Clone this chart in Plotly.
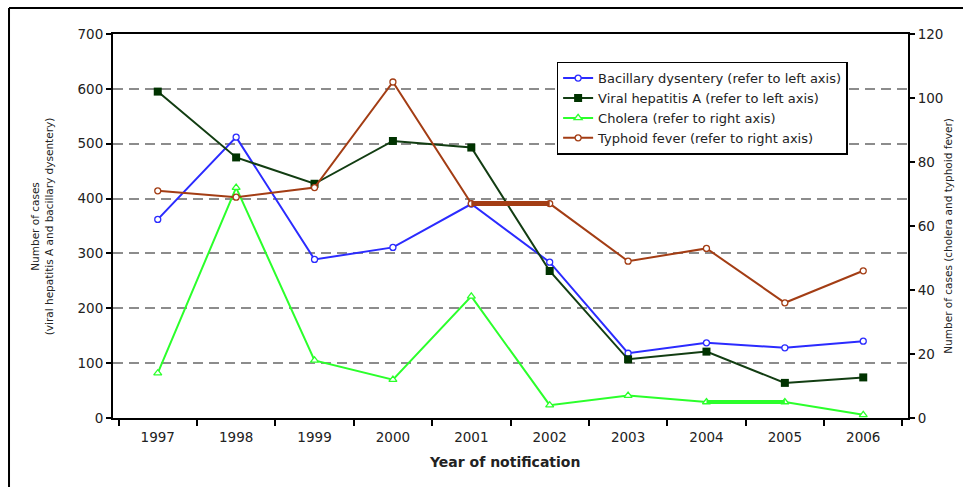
import plotly.graph_objects as go

# Notified cases per year
years = ["1997", "1998", "1999", "2000", "2001", "2002", "2003", "2004", "2005", "2006"]
bacillary_dysentery = [362, 512, 289, 311, 390, 284, 118, 137, 128, 140]
viral_hepatitis_a = [595, 475, 427, 505, 493, 268, 107, 121, 64, 74]
cholera = [14, 72, 18, 12, 38, 4, 7, 5, 5, 1]
typhoid_fever = [71, 69, 72, 105, 67, 67, 49, 53, 36, 46]

FONT = "DejaVu Sans, Verdana, sans-serif"
TXT = "#222222"
BLUE = "#2b2bff"
DKGREEN = "#123d12"
GREEN = "#2bff2b"
BROWN = "#a33d14"

fig = go.Figure()

fig.add_trace(go.Scatter(
    x=years, y=bacillary_dysentery, name="Bacillary dysentery (refer to left axis)",
    mode="lines+markers", line=dict(color=BLUE, width=2),
    marker=dict(symbol="circle", size=6, color="white", line=dict(color=BLUE, width=1.3)),
    yaxis="y"))
fig.add_trace(go.Scatter(
    x=years, y=viral_hepatitis_a, name="Viral hepatitis A (refer to left axis)",
    mode="lines+markers", line=dict(color=DKGREEN, width=2),
    marker=dict(symbol="square", size=8, color="#003300", line=dict(color="#003300", width=0)),
    yaxis="y"))
fig.add_trace(go.Scatter(
    x=years, y=cholera, name="Cholera (refer to right axis)",
    mode="lines+markers", line=dict(color=GREEN, width=2),
    marker=dict(symbol="triangle-up", size=7, color="white", line=dict(color=GREEN, width=1.3)),
    yaxis="y2"))
fig.add_trace(go.Scatter(
    x=years, y=typhoid_fever, name="Typhoid fever (refer to right axis)",
    mode="lines+markers", line=dict(color=BROWN, width=2),
    marker=dict(symbol="circle", size=6, color="white", line=dict(color=BROWN, width=1.3)),
    yaxis="y2"))


# flat runs (equal consecutive values) are rendered with a heavier stroke
def flat_runs(values):
    return [i for i in range(len(values) - 1) if values[i] == values[i + 1]]


for series, color, width in ((cholera, GREEN, 4), (typhoid_fever, BROWN, 5)):
    for i in flat_runs(series):
        fig.add_trace(go.Scatter(
            x=years[i:i + 2], y=series[i:i + 2], mode="lines",
            line=dict(color=color, width=width), showlegend=False,
            hoverinfo="skip", yaxis="y2"))

tick_font = dict(family=FONT, size=13.5, color=TXT)

fig.update_layout(
    width=963, height=487,
    margin=dict(l=113, r=55, t=34, b=69),
    paper_bgcolor="white", plot_bgcolor="white",
    font=dict(family=FONT, size=11, color=TXT),
    showlegend=True,
    legend=dict(
        x=0.558, y=0.928, xanchor="left", yanchor="top",
        bgcolor="white", bordercolor="black", borderwidth=1.5,
        font=dict(family=FONT, size=13, color=TXT),
        tracegroupgap=0, itemwidth=30,
    ),
    xaxis=dict(
        type="category", tickson="boundaries",
        ticks="outside", ticklen=6, tickwidth=1.5, tickcolor="black",
        ticklabelstandoff=6,
        showline=True, linecolor="black", linewidth=2, mirror=True,
        showgrid=False, zeroline=False,
        tickfont=tick_font,
    ),
    yaxis=dict(
        range=[0, 700], dtick=100, tick0=0,
        ticks="outside", ticklen=5, tickwidth=1.5, tickcolor="black",
        showline=True, linecolor="black", linewidth=2,
        showgrid=True, gridcolor="#8c8c8c", gridwidth=1.5, griddash="10px,6px",
        zeroline=False,
        tickfont=tick_font,
    ),
    yaxis2=dict(
        range=[0, 120], dtick=20, tick0=0, overlaying="y", side="right",
        ticks="outside", ticklen=5, tickwidth=1.5, tickcolor="black",
        showline=True, linecolor="black", linewidth=2,
        showgrid=False, zeroline=False,
        tickfont=tick_font,
    ),
    annotations=[
        dict(text="Number of cases<br>(viral hepatitis A and bacillary dysentery)",
             x=-0.089, y=0.5, xref="paper", yref="paper", showarrow=False,
             xanchor="center", yanchor="middle",
             textangle=-90, font=dict(family=FONT, size=10.5, color=TXT)),
        dict(text="Number of cases (cholera and typhoid fever)",
             x=1.05, y=0.474, xref="paper", yref="paper", showarrow=False,
             xanchor="center", yanchor="middle",
             textangle=-90, font=dict(family=FONT, size=10.5, color=TXT)),
        dict(text="<b>Year of notification</b>",
             x=0.493, y=-0.1146, xref="paper", yref="paper", showarrow=False,
             xanchor="center", yanchor="middle",
             font=dict(family=FONT, size=14, color=TXT)),
    ],
    shapes=[
        dict(type="line", xref="paper", yref="paper", x0=-0.1308, x1=1.07, y0=1.0677, y1=1.0677,
             line=dict(color="black", width=2)),
        dict(type="line", xref="paper", yref="paper", x0=-0.1308, x1=-0.1308, y0=1.0677, y1=-0.19,
             line=dict(color="black", width=2)),
    ],
)

fig.write_html("out.html")
